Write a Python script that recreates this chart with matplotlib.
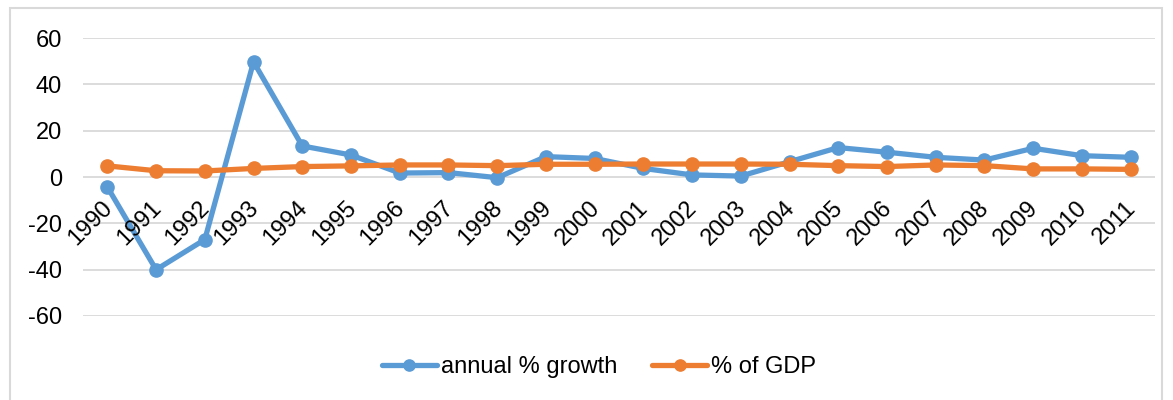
import matplotlib
matplotlib.use("Agg")
import matplotlib.pyplot as plt
from matplotlib.patches import Rectangle
import matplotlib.transforms as mtransforms

years = ["1990", "1991", "1992", "1993", "1994", "1995", "1996", "1997", "1998", "1999", "2000",
         "2001", "2002", "2003", "2004", "2005", "2006", "2007", "2008", "2009", "2010", "2011"]
annual_growth = [-4.3, -40.0, -27.0, 49.7, 13.4, 9.5, 1.7, 1.9, -0.3, 8.8, 8.0,
                 3.7, 0.9, 0.4, 6.6, 12.7, 10.7, 8.5, 7.3, 12.4, 9.2, 8.5]
pct_gdp = [4.8, 2.7, 2.6, 3.7, 4.5, 4.8, 5.2, 5.2, 4.9, 5.5, 5.5,
           5.6, 5.6, 5.6, 5.5, 4.9, 4.5, 5.2, 4.9, 3.5, 3.5, 3.3]
yticks = [-60, -40, -20, 0, 20, 40, 60]

plt.rcParams['font.family'] = ['Liberation Sans', 'DejaVu Sans']
FS = 17

fig = plt.figure(figsize=(11.73, 4.0), dpi=100)
fig.patches.append(Rectangle((10/1173, -0.05), 1152/1173, 1.05 - 8/400, transform=fig.transFigure,
                             fill=False, edgecolor='#D9D9D9', linewidth=1.5))
ax = fig.add_axes([83/1173, 1 - 316/400, (1155-83)/1173, (316-38)/400])

x = list(range(len(years)))
blue = '#5B9BD5'
orange = '#ED7D31'
ax.plot(x, annual_growth, color=blue, lw=3.8, marker='o', ms=9.5, label='annual % growth',
        solid_capstyle='round', zorder=3)
ax.plot(x, pct_gdp, color=orange, lw=3.8, marker='o', ms=9.5, label='% of GDP',
        solid_capstyle='round', zorder=4)

ax.set_xlim(-0.5, len(years) - 0.5)
ax.set_ylim(-60, 60)
ax.set_yticks(yticks)
ax.set_yticklabels([str(v) for v in yticks], fontsize=FS)
ax.tick_params(axis='y', length=0, pad=15)
ax.set_xticks([])
ax.grid(axis='y', color='#D9D9D9', lw=1.3)
ax.set_axisbelow(True)
for s in ax.spines.values():
    s.set_visible(False)

offset = mtransforms.ScaledTranslation(-6/100, -20/100, fig.dpi_scale_trans)
for i, lab in enumerate(years):
    ax.text(i, 0, lab, rotation=45, rotation_mode='anchor', ha='right', va='top',
            fontsize=FS, transform=ax.transData + offset)

leg = fig.legend(loc='center', bbox_to_anchor=(599/1173, 1 - 367/400), ncol=2, frameon=False,
                 fontsize=FS, handlelength=2.33, columnspacing=1.5, handletextpad=0.17,
                 markerscale=0.85)

fig.savefig('out.png', dpi=100)
